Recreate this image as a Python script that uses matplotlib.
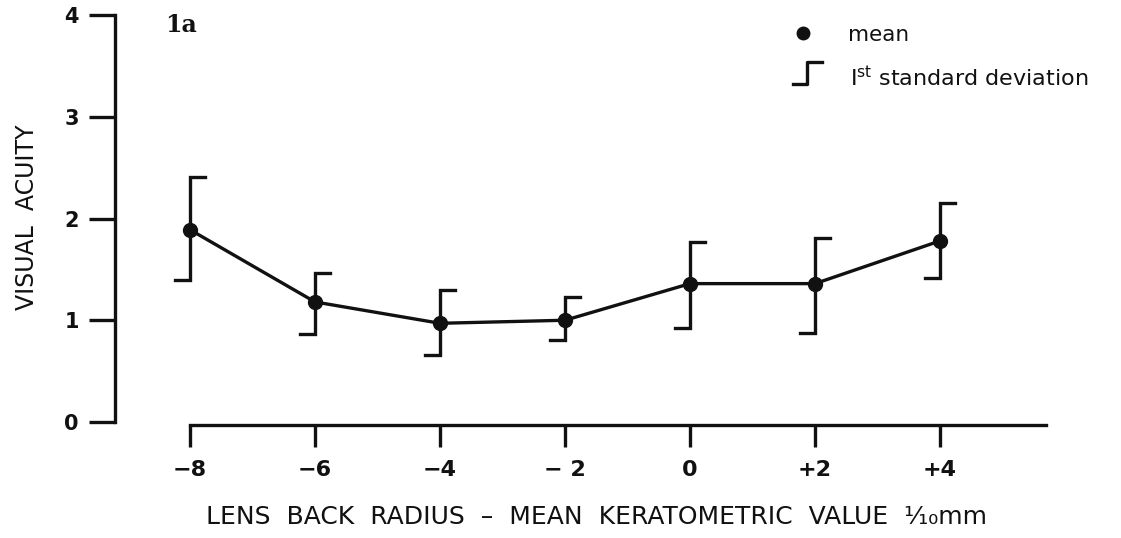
import matplotlib.pyplot as plt
import numpy as np

# lens back radius minus mean keratometric value (1/10 mm)
radius = [-8, -6, -4, -2, 0, 2, 4]
acuity_mean = [1.89, 1.18, 0.97, 1.00, 1.36, 1.36, 1.78]
sd_upper = [2.41, 1.46, 1.30, 1.23, 1.77, 1.81, 2.15]
sd_lower = [1.40, 0.86, 0.66, 0.81, 0.92, 0.87, 1.42]
xtick_labels = ['\u22128', '\u22126', '\u22124', '\u2212 2', '0', '+2', '+4']
ytick_vals = [0, 1, 2, 3, 4]

W, H = 1121, 538
fig = plt.figure(figsize=(W / 100, H / 100), dpi=100)
ax = fig.add_axes([100 / W, 1 - 430 / H, 960 / W, 420 / H])
ax.set_xlim(-9.44, 5.92)
ax.set_ylim(-0.079, 4.05)

ink = '#111111'
lw = 2.4

# mean line
ax.plot(radius, acuity_mean, color=ink, lw=lw, zorder=3)
ax.plot(radius, acuity_mean, 'o', color=ink, ms=10, zorder=4)

# standard deviation brackets: cap right at top, cap left at bottom
cap = 0.24
for x, lo, hi in zip(radius, sd_lower, sd_upper):
    ax.plot([x - cap, x, x, x + cap], [lo, lo, hi, hi], color=ink, lw=lw,
            solid_joinstyle='miter', zorder=3)

# detached axes
for s in ['top', 'right']:
    ax.spines[s].set_visible(False)
ax.spines['left'].set_position(('data', -9.2))
ax.spines['left'].set_bounds(0, 4)
ax.spines['bottom'].set_position(('data', -0.03))
ax.spines['bottom'].set_bounds(-8, 5.7)
for s in ['left', 'bottom']:
    ax.spines[s].set_linewidth(lw)
    ax.spines[s].set_color(ink)

ax.set_yticks(ytick_vals)
ax.set_yticklabels([str(v) for v in ytick_vals], fontsize=15, fontweight='bold')
ax.set_xticks(radius)
ax.set_xticklabels(xtick_labels, fontsize=16, fontweight='bold')
ax.tick_params(axis='y', direction='out', length=19, width=lw, pad=7, colors=ink)
ax.tick_params(axis='x', direction='out', length=16, width=lw, pad=9, colors=ink)

fig.text(27 / W, 1 - 217 / H, 'VISUAL  ACUITY', rotation=90, ha='center',
         va='center', fontsize=17, color=ink)
fig.text(597 / W, 1 - 517 / H,
         'LENS  BACK  RADIUS  \u2013  MEAN  KERATOMETRIC  VALUE  \u00b9\u2044\u2081\u2080mm',
         ha='center', va='center', fontsize=18, color=ink)
fig.text(165 / W, 1 - 25 / H, '1a', ha='left', va='center', fontsize=17,
         fontweight='bold', family='DejaVu Serif', color=ink)

# legend drawn by hand
fig.lines.append(plt.Line2D([803 / W], [1 - 33 / H], marker='o', ms=9,
                            color=ink, transform=fig.transFigure))
fig.text(848 / W, 1 - 35 / H, 'mean', ha='left', va='center', fontsize=15.5,
         color=ink)
fig.lines.append(plt.Line2D([793 / W, 807 / W, 807 / W, 822 / W],
                            [1 - 84 / H, 1 - 84 / H, 1 - 62 / H, 1 - 62 / H],
                            color=ink, lw=lw, transform=fig.transFigure))
fig.text(850 / W, 1 - 78 / H, 'I$^{\\mathrm{st}}$ standard deviation',
         ha='left', va='center', fontsize=16, color=ink)

fig.savefig('out.png', dpi=100, facecolor='white')
